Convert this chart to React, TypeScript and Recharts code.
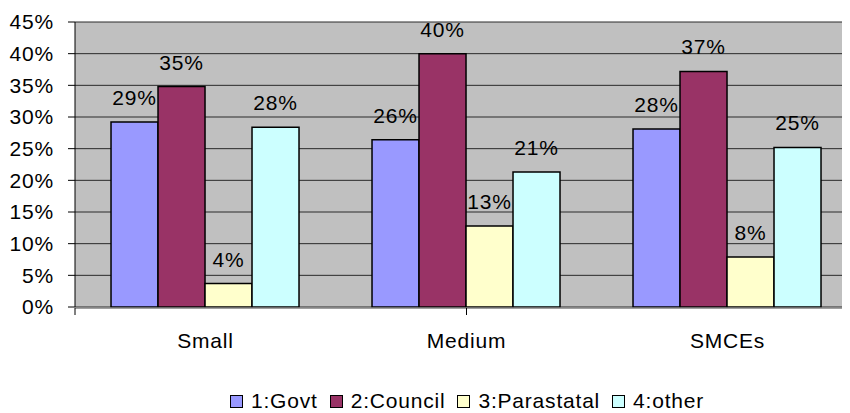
import { BarChart, Bar, XAxis, YAxis, CartesianGrid, Legend, LabelList } from "recharts"

// Share of enterprises by size class and type of owner
const categories = ["Small", "Medium", "SMCEs"]
const govt = [0.292, 0.264, 0.281]
const council = [0.348, 0.4, 0.372]
const parastatal = [0.037, 0.128, 0.079]
const other = [0.284, 0.213, 0.252]

const seriesNames = ["1:Govt", "2:Council", "3:Parastatal", "4:other"]
const seriesColors = ["#9999FF", "#993366", "#FFFFCC", "#CCFFFF"]
const yTicks = [0, 0.05, 0.1, 0.15, 0.2, 0.25, 0.3, 0.35, 0.4, 0.45]
const edgeTicks = [0, 1, 2, 3]

const data = categories.map((name, i) => ({
  name,
  govt: govt[i],
  council: council[i],
  parastatal: parastatal[i],
  other: other[i],
}))

const keys = ["govt", "council", "parastatal", "other"]
const font = "'Liberation Sans', Arial, sans-serif"
const fs = 21
const ls = 0.8
const txt = { fontSize: fs, fill: "#000", fontFamily: font, letterSpacing: ls }
const pct = (v: any) => `${Math.round(Number(v) * 100)}%`

const LegendBox = () => (
  <div
    style={{
      display: "flex",
      alignItems: "center",
      fontFamily: font,
      fontSize: fs,
      letterSpacing: ls,
      color: "#000",
      whiteSpace: "nowrap",
    }}
  >
    {seriesNames.map((n, i) => (
      <div key={n} style={{ display: "flex", alignItems: "center", marginRight: 12 }}>
        <span
          style={{
            display: "inline-block",
            width: 11,
            height: 11,
            border: "1px solid #000",
            background: seriesColors[i],
            marginRight: 8,
          }}
        />
        <span>{n}</span>
      </div>
    ))}
  </div>
)

export default function App() {
  return (
    <div style={{ width: 850, height: 413, overflow: "hidden", margin: "-8px 0 0 -8px", fontFamily: font }}>
      <BarChart
        width={858}
        height={413}
        data={data}
        barCategoryGap="13.8%"
        barGap={0}
        margin={{ top: 22, right: 0, left: 0, bottom: 104 }}
      >
        <CartesianGrid vertical={false} fill="#C0C0C0" stroke="#2a2a2a" strokeWidth={1} />
        <XAxis
          xAxisId="edges"
          type="number"
          domain={[0, 3]}
          ticks={edgeTicks}
          height={1}
          tickSize={7}
          tickFormatter={() => ""}
          axisLine={{ stroke: "#808080", strokeWidth: 1.5 }}
          tickLine={{ stroke: "#000" }}
        />
        <XAxis
          dataKey="name"
          height={1}
          tickLine={false}
          axisLine={false}
          tickSize={0}
          tickMargin={26}
          tick={txt}
        />
        <YAxis
          width={75}
          domain={[0, 0.45]}
          ticks={yTicks}
          tickFormatter={pct}
          tickSize={7}
          tickMargin={14}
          axisLine={{ stroke: "#000" }}
          tickLine={{ stroke: "#000" }}
          tick={txt}
        />
        <Legend
          verticalAlign="middle"
          layout="horizontal"
          content={<LegendBox />}
          wrapperStyle={{ left: 230, top: 389, width: "auto" }}
        />
        {keys.map((k, i) => (
          <Bar
            key={k}
            dataKey={k}
            name={seriesNames[i]}
            fill={seriesColors[i]}
            stroke="#000"
            strokeWidth={1.5}
            isAnimationActive={false}
          >
            <LabelList dataKey={k} position="top" offset={17} formatter={pct} style={txt} />
          </Bar>
        ))}
      </BarChart>
    </div>
  )
}
